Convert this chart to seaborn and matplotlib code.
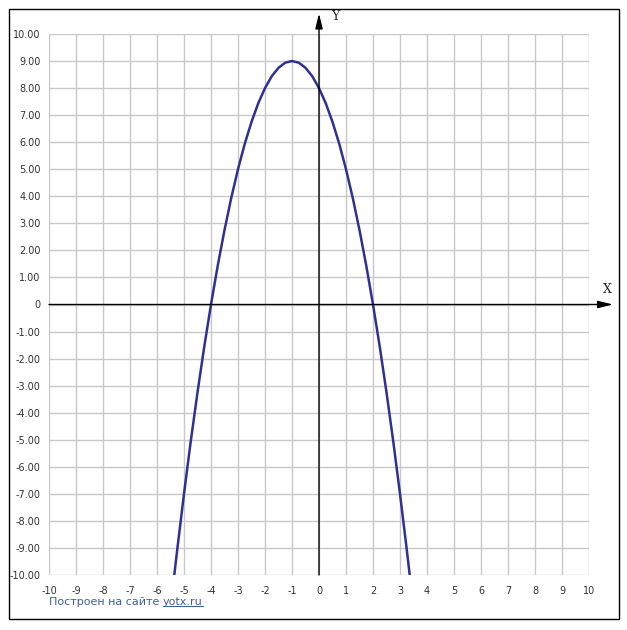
import numpy as np, matplotlib.pyplot as plt
import seaborn as sns
from matplotlib.patches import Rectangle
from matplotlib.lines import Line2D

# ---------- data ----------
xs = [-5.36, -5.25, -5.0, -4.75, -4.5, -4.25, -4.0, -3.75, -3.5, -3.25, -3.0,
      -2.75, -2.5, -2.25, -2.0, -1.75, -1.5, -1.25, -1.0, -0.75, -0.5, -0.25,
      0.0, 0.25, 0.5, 0.75, 1.0, 1.25, 1.5, 1.75, 2.0, 2.25, 2.5, 2.75, 3.0,
      3.25, 3.36]
ys = [-10.0, -9.06, -7.0, -5.06, -3.25, -1.56, 0.0, 1.44, 2.75, 3.94, 5.0,
      5.94, 6.75, 7.44, 8.0, 8.44, 8.75, 8.94, 9.0, 8.94, 8.75, 8.44,
      8.0, 7.44, 6.75, 5.94, 5.0, 3.94, 2.75, 1.44, 0.0, -1.56, -3.25, -5.06, -7.0,
      -9.06, -10.0]
x_ticks = list(range(-10, 11))
y_ticks = list(range(-10, 11))
y_labels = ["0" if v == 0 else f"{v:.2f}" for v in y_ticks]
footer = "Построен на сайте "
link = "yotx.ru"

sns.set_style("white")
plt.rcParams['font.family'] = ['DejaVu Sans']

W, H = 627, 630
fig = plt.figure(figsize=(W/100, H/100), dpi=100)
ax = fig.add_axes([49/W, 1-575/H, 540/W, 541/H])

# grid
for v in x_ticks:
    ax.axvline(v, color='#c8c8c8', lw=1, zorder=0)
for v in y_ticks:
    ax.axhline(v, color='#c8c8c8', lw=1, zorder=0)

sns.lineplot(x=xs, y=ys, sort=False, color='#2e3192', lw=1.8, ax=ax, zorder=3)

ax.set_xlim(-10, 10); ax.set_ylim(-10, 10)
ax.set_xticks(x_ticks); ax.set_xticklabels([str(v) for v in x_ticks])
ax.set_yticks(y_ticks); ax.set_yticklabels(y_labels)
ax.tick_params(length=0, labelsize=7, labelcolor='#333333')
ax.tick_params(axis='x', pad=8)
ax.tick_params(axis='y', pad=6)
for s in ax.spines.values():
    s.set_visible(False)
ax.set_xlabel(""); ax.set_ylabel("")

# axes with arrows
ap = dict(arrowstyle='-|>,head_length=0.9,head_width=0.22', color='black', lw=1,
          shrinkA=0, shrinkB=0)
ax.annotate('', xy=(0, 10.76), xytext=(0, -10), arrowprops=ap, annotation_clip=False, zorder=4)
ax.annotate('', xy=(10.89, 0), xytext=(-10, 0), arrowprops=ap, annotation_clip=False, zorder=4)
fig.text(331/W, 1-17/H, "Y", family='DejaVu Serif', fontsize=9, va='center')
fig.text(603/W, 1-290/H, "X", family='DejaVu Serif', fontsize=9, va='center')

# outer frame
fig.patches.append(Rectangle((9/W, 1-619/H), 610/W, 610/H, transform=fig.transFigure,
                             fill=False, ec='black', lw=1))

# footer
t1 = fig.text(49/W, 1-602/H, footer, color='#3f5f9f', fontsize=8, va='center')
fig.canvas.draw()
bb = t1.get_window_extent()
t2 = fig.text(bb.x1/W, 1-602/H, link, color='#3f5f9f', fontsize=8, va='center')
fig.canvas.draw()
bb2 = t2.get_window_extent()
fig.lines.append(Line2D([bb2.x0/W, bb2.x1/W], [(bb2.y0+1)/H]*2,
                        transform=fig.transFigure, color='#3f5f9f', lw=0.8))

fig.savefig("out.png", dpi=100)
